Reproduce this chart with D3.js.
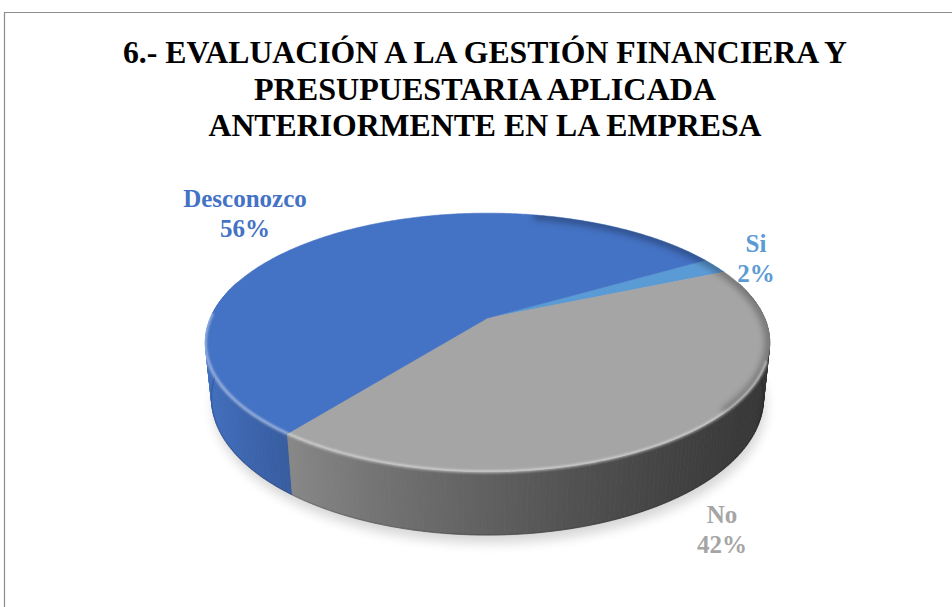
<!DOCTYPE html>
<html><head><meta charset="utf-8">
<script src="https://cdn.jsdelivr.net/npm/d3@7"></script>
<style>html,body{margin:0;padding:0;background:#fff;} svg{display:block;}
#chart text.serif{font-family:"Liberation Serif", monospace !important;font-weight:bold;}
</style>
</head><body>
<svg id="chart" width="952" height="607"></svg>
<script>
// ---- data ----
const categories = ["Si", "No", "Desconozco"];
const values = [2, 42, 56];
const percentLabels = ["2%", "42%", "56%"];
const titleLines = ["6.- EVALUACIÓN A LA GESTIÓN FINANCIERA Y", "PRESUPUESTARIA APLICADA", "ANTERIORMENTE EN LA EMPRESA"];

// ---- styles / layout ----
const serifFamily = '"Liberation Serif", monospace';
const titleWidths = [724, 462, 553];
const sliceColors = ["#5B9BD5", "#A5A5A5", "#4472C4"];
const labelAnchors = [[756, 252], [722, 523], [245, 207]];
const view = {cx: 487.5, cy: 318, f: 1308, D: 4.72, s: 0.45, H: 0.226};
view.c = Math.sqrt(1 - view.s * view.s);
const startDeg = 59.5;

const svg = d3.select("#chart");
const defs = svg.append("defs");
defs.append("filter").attr("id", "blurShadow").attr("x", "-20%").attr("y", "-20%").attr("width", "140%").attr("height", "140%")
  .append("feGaussianBlur").attr("stdDeviation", 6);
defs.append("filter").attr("id", "blurRim").attr("x", "-10%").attr("y", "-10%").attr("width", "120%").attr("height", "120%")
  .append("feGaussianBlur").attr("stdDeviation", 1.3);
defs.append("filter").attr("id", "blurBevel").attr("x", "-10%").attr("y", "-10%").attr("width", "120%").attr("height", "120%")
  .append("feGaussianBlur").attr("stdDeviation", 3);

// frame
svg.append("path").attr("d", "M4.5,607 L4.5,12.5 L952,12.5")
  .attr("fill", "none").attr("stroke", "#8c8c8c").attr("stroke-width", 1.2);

// title
titleLines.forEach((t, i) => {
  svg.append("text").attr("class", "serif")
    .attr("font-family", "Liberation Serif")
    .style("font-family", serifFamily).style("font-weight", "bold").style("font-size", "31px")
    .attr("text-anchor", "middle").attr("fill", "#000")
    .attr("x", 485).attr("y", 63 + i * 36.7)
    .attr("textLength", titleWidths[i]).attr("lengthAdjust", "spacingAndGlyphs")
    .text(t);
});

// perspective projection of the pie disc
function project(theta, h) {
  const x = Math.sin(theta), z = -Math.cos(theta);
  const depth = view.D - z * view.c - h * view.s;
  const up = h * view.c - z * view.s;
  return [view.cx + view.f * x / depth, view.cy - view.f * up / depth];
}
function centre(h) {
  const depth = view.D - h * view.s;
  const up = h * view.c;
  return [view.cx, view.cy - view.f * up / depth];
}

const pie = d3.pie().sort(null).value(d => d)
  .startAngle(startDeg * Math.PI / 180)
  .endAngle(startDeg * Math.PI / 180 + 2 * Math.PI);
const arcs = pie(values);

const step = Math.PI / 360;
function rimPoints(a0, a1, h) {
  const n = Math.max(2, Math.ceil((a1 - a0) / step));
  return d3.range(n + 1).map(i => project(a0 + (a1 - a0) * i / n, h));
}
const line = d3.line();

// soft shadow
const bottomRing = rimPoints(0, 2 * Math.PI, -view.H).map(p => [p[0] + 2, p[1] + 8]);
svg.append("path").attr("d", line(bottomRing) + "Z")
  .attr("fill", "#000").attr("opacity", 0.16).attr("filter", "url(#blurShadow)");

// side walls
const shadeX = d3.scaleLinear().domain([205, 770]).range([0, 1]).clamp(true);
function sideColor(base, sx) {
  const t = shadeX(sx);
  const m = 1 - 0.68 * Math.pow(t, 0.7);
  const c = d3.rgb(base);
  return d3.rgb(c.r * m, c.g * m, c.b * m).formatHex();
}
const segs = [];
arcs.forEach((a, i) => {
  const n = Math.max(1, Math.ceil((a.endAngle - a.startAngle) / (Math.PI / 180)));
  for (let k = 0; k < n; k++) {
    const t0 = a.startAngle + (a.endAngle - a.startAngle) * k / n;
    const t1 = a.startAngle + (a.endAngle - a.startAngle) * (k + 1) / n;
    const tm = (t0 + t1) / 2;
    if (Math.cos(tm) > 0.3) continue;
    const pts = [project(t0, 0), project(t1, 0), project(t1, -view.H), project(t0, -view.H)];
    segs.push({z: -Math.cos(tm), pts, color: sideColor(sliceColors[i], project(tm, -view.H / 2)[0])});
  }
});
segs.sort((a, b) => a.z - b.z);
svg.append("g").selectAll("path").data(segs).join("path")
  .attr("d", d => line(d.pts) + "Z")
  .attr("fill", d => d.color).attr("stroke", d => d.color).attr("stroke-width", 0.8);

svg.append("path").attr("d", line(rimPoints(Math.PI / 2 - 0.15, 3 * Math.PI / 2 + 0.15, -view.H)))
  .attr("fill", "none").attr("stroke", "#000").attr("stroke-opacity", 0.15).attr("stroke-width", 1.5);

// top faces
const c0 = centre(0);
svg.append("g").selectAll("path").data(arcs).join("path")
  .attr("d", a => line([c0, ...rimPoints(a.startAngle, a.endAngle, 0)]) + "Z")
  .attr("fill", (a, i) => sliceColors[i])
  .attr("stroke", (a, i) => sliceColors[i]).attr("stroke-width", 0.6);

// bevel shading
const topRing = rimPoints(0, 2 * Math.PI, 0);
defs.append("clipPath").attr("id", "topClip").append("path").attr("d", line(topRing) + "Z");
const bevel = svg.append("g").attr("clip-path", "url(#topClip)");
bevel.append("path").attr("d", line(rimPoints(0.2, 2.3, 0)))
  .attr("fill", "none").attr("stroke", "#000").attr("stroke-opacity", 0.28)
  .attr("stroke-width", 10).attr("filter", "url(#blurBevel)");
svg.append("path").attr("d", line(rimPoints(1.9, 4.75, 0)))
  .attr("fill", "none").attr("stroke", "#fff").attr("stroke-opacity", 0.45)
  .attr("stroke-width", 3).attr("filter", "url(#blurRim)");

// data labels
arcs.forEach((a, i) => {
  const [x, y] = labelAnchors[i];
  [categories[i], percentLabels[i]].forEach((txt, j) => {
    svg.append("text").attr("class", "serif")
      .style("font-family", serifFamily).style("font-weight", "bold").style("font-size", "25px")
      .attr("text-anchor", "middle").attr("fill", sliceColors[i])
      .attr("x", x).attr("y", y + j * 30).text(txt);
  });
});
</script>
</body></html>
